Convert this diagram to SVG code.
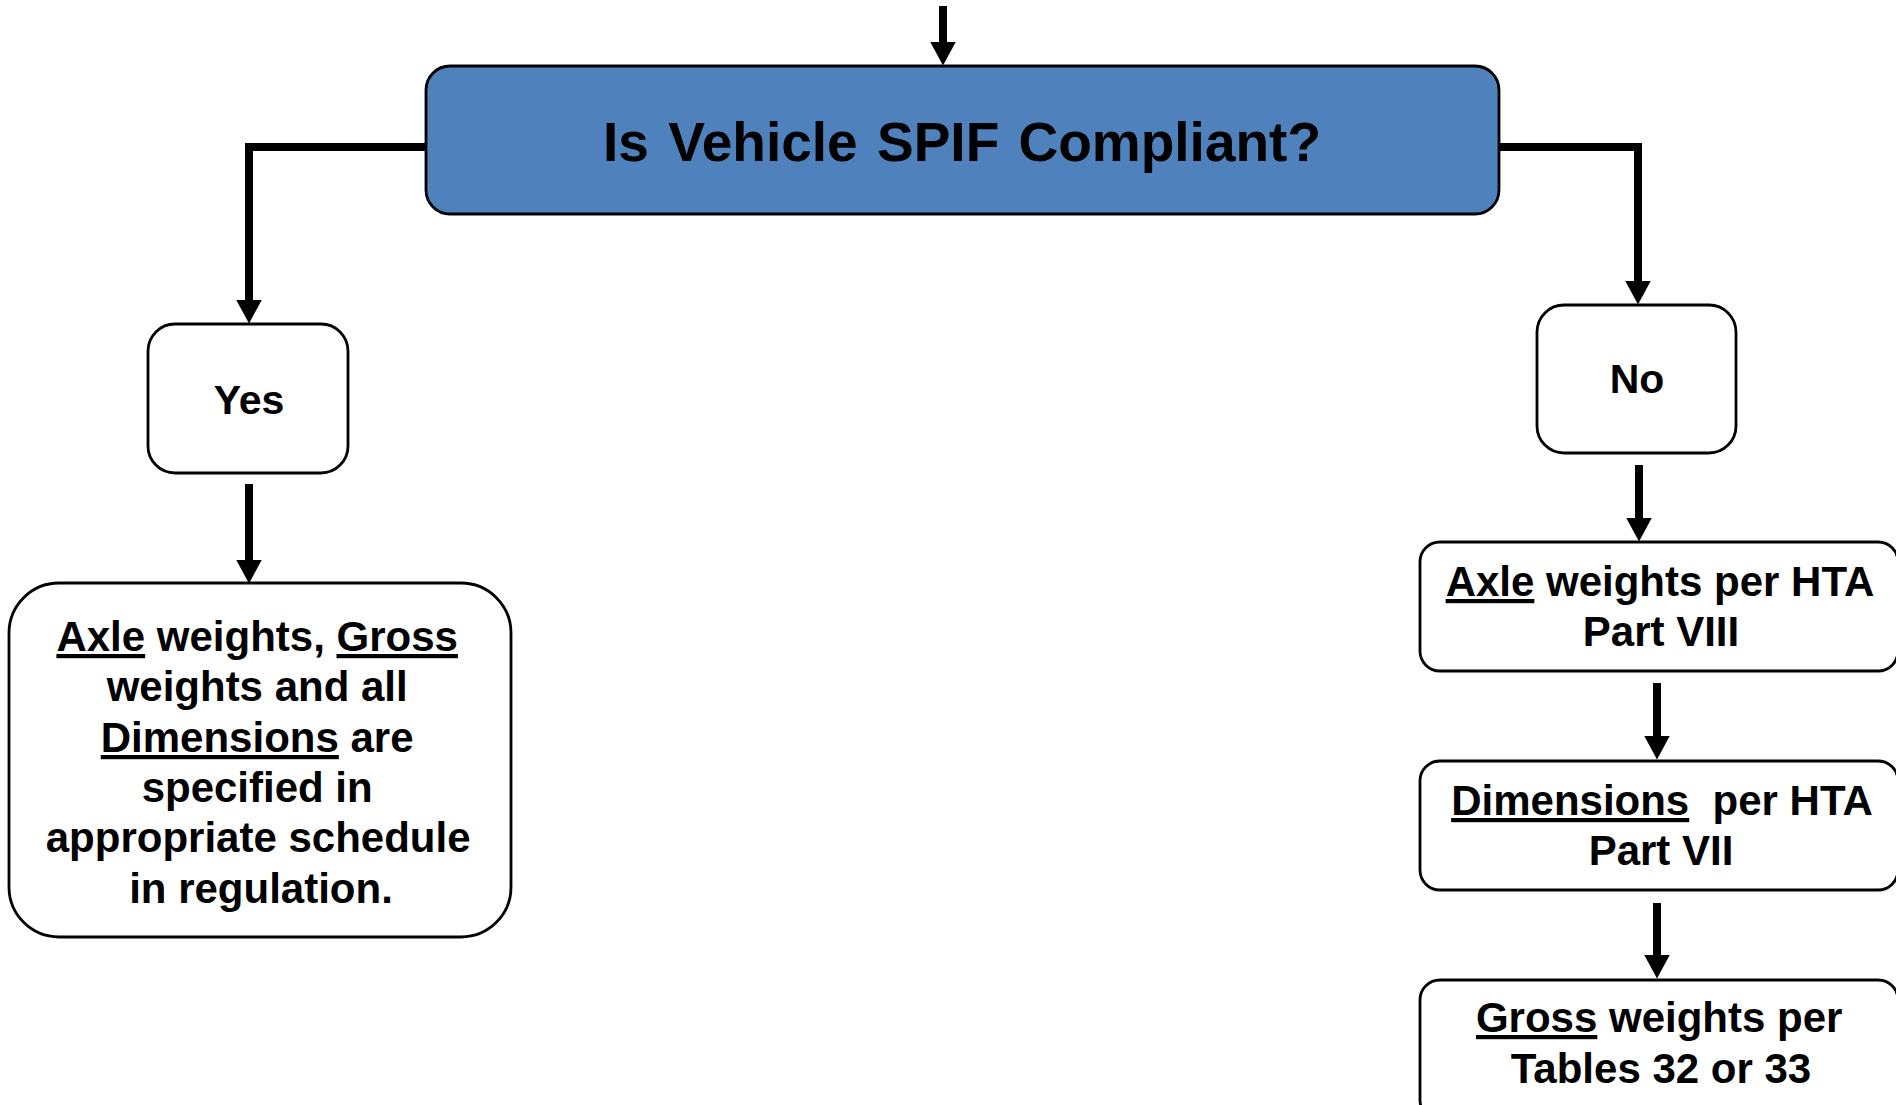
<svg xmlns="http://www.w3.org/2000/svg" width="1896" height="1105" viewBox="0 0 1896 1105">
<style>
.box{fill:#ffffff;stroke:#000000;stroke-width:2.8}
.title{fill:#4F81BD;stroke:#000000;stroke-width:2.8}
.t{font-family:"Liberation Sans",Arial,sans-serif;font-weight:bold;fill:#000000;text-anchor:middle}
.conn{fill:none;stroke:#000000;stroke-width:8;stroke-linejoin:miter}
.u{text-decoration:underline}
</style>
<defs>
<marker id="ah" markerUnits="userSpaceOnUse" viewBox="0 0 24 26" markerWidth="24" markerHeight="26" refX="0.5" refY="13" orient="auto">
<path d="M0,0 L24,13 L0,26 z" fill="#000000"/>
</marker>
</defs>
<rect width="1896" height="1105" fill="#ffffff"/>
<g id="connectors">
<path class="conn" d="M943,6 V42" marker-end="url(#ah)"/>
<path class="conn" d="M426,147 H249 V300" marker-end="url(#ah)"/>
<path class="conn" d="M1499,147 H1638 V281" marker-end="url(#ah)"/>
<path class="conn" d="M249,484 V560" marker-end="url(#ah)"/>
<path class="conn" d="M1639,465 V518" marker-end="url(#ah)"/>
<path class="conn" d="M1657,683 V736" marker-end="url(#ah)"/>
<path class="conn" d="M1657,903 V955" marker-end="url(#ah)"/>
</g>
<g id="question">
<rect class="title" x="426" y="66" width="1073" height="148" rx="24"/>
<text class="t" x="962" y="161" font-size="55" word-spacing="4">Is Vehicle SPIF Compliant?</text>
</g>
<g id="yes">
<rect class="box" x="148" y="324" width="200" height="149" rx="27"/>
<text class="t" x="249" y="414" font-size="41">Yes</text>
</g>
<g id="no">
<rect class="box" x="1537" y="305" width="199" height="148" rx="27"/>
<text class="t" x="1637" y="393" font-size="41">No</text>
</g>
<g id="spif-compliant">
<rect class="box" x="9" y="583" width="502" height="354" rx="50"/>
<text class="t" font-size="42">
<tspan x="263" y="651"><tspan class="u">Axle</tspan> weights, <tspan class="u">Gross</tspan></tspan>
<tspan x="263" y="701">weights and all</tspan>
<tspan x="263" y="752"><tspan class="u">Dimensions</tspan> are</tspan>
<tspan x="263" y="802">specified in</tspan>
<tspan x="264" y="852">appropriate schedule</tspan>
<tspan x="261" y="903">in regulation.</tspan>
</text>
</g>
<g id="axle">
<rect class="box" x="1420" y="542" width="478" height="129" rx="20"/>
<text class="t" font-size="42">
<tspan x="1665" y="596"><tspan class="u">Axle</tspan> weights per HTA</tspan>
<tspan x="1661" y="646">Part VIII</tspan>
</text>
</g>
<g id="dimensions">
<rect class="box" x="1420" y="761" width="478" height="129" rx="20"/>
<text class="t" font-size="42" xml:space="preserve"><tspan x="1662" y="815"><tspan class="u">Dimensions</tspan>  per HTA</tspan><tspan x="1661" y="865">Part VII</tspan></text>
</g>
<g id="gross">
<rect class="box" x="1420" y="980" width="478" height="140" rx="20"/>
<text class="t" font-size="42">
<tspan x="1665" y="1032"><tspan class="u">Gross</tspan> weights per</tspan>
<tspan x="1661" y="1083">Tables 32 or 33</tspan>
</text>
</g>
</svg>
